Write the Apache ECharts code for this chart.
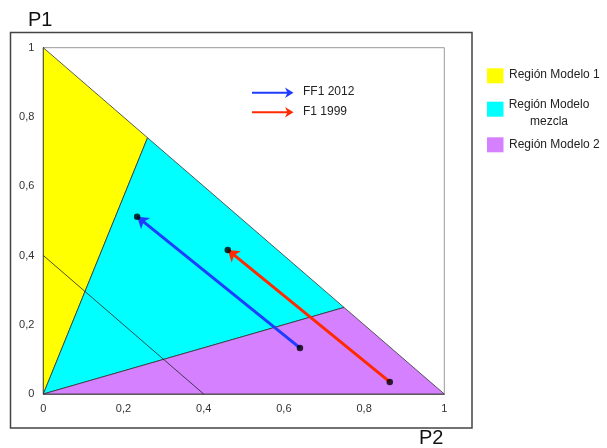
<!DOCTYPE html>
<html>
<head>
<meta charset="utf-8">
<script src="https://cdn.jsdelivr.net/npm/echarts@6/dist/echarts.min.js"></script>
<style>html,body{margin:0;padding:0;background:#fff;}#c{width:607px;height:448px;}</style>
</head>
<body>
<div id="c"></div>
<script>
// Regions (vertices in data coordinates P2, P1)
const regionModelo1 = [[0,0],[0.26,0.74],[0,1]];
const regionMezcla  = [[0,0],[0.75,0.25],[0.26,0.74]];
const regionModelo2 = [[0,0],[1,0],[0.75,0.25]];
const guideLine = [[0,0.4],[0.4,0]];
// Arrows: from -> to
const ff1_2012 = [[0.64,0.133],[0.234,0.512]];
const f1_1999  = [[0.864,0.035],[0.46,0.416]];
const xTicks = [0,0.2,0.4,0.6,0.8,1];
const yTicks = [0,0.2,0.4,0.6,0.8,1];
const regionNames = ['Región Modelo 1','Región Modelo\nmezcla','Región Modelo 2'];
const arrowNames = ['FF1 2012','F1 1999'];

const colYellow = '#ffff00', colCyan = '#00ffff', colPurple = '#d580ff';
const colBlue = '#1f3cff', colRed = '#ff2a00';
const FONT = '"Liberation Sans", Arial, sans-serif';

function polySeries(verts, color){
  return {
    type:'custom', coordinateSystem:'cartesian2d', z:2, silent:true,
    data: verts,
    renderItem: function(params, api){
      if (params.dataIndex !== 0) return null;
      return {
        type:'polygon',
        shape:{points: verts.map(function(v){return api.coord(v);})},
        style:{fill:color, stroke:'#333', lineWidth:0.8}
      };
    }
  };
}
const fmt = function(v){ return String(+v.toFixed(1)).replace('.',','); };

const chart = echarts.init(document.getElementById('c'), null, {renderer:'canvas'});
chart.setOption({
  animation:false,
  backgroundColor:'#fff',
  grid:{left:43.3, right:607-444.3, top:47.7, bottom:448-394, show:true, borderColor:'#999', borderWidth:1},
  xAxis:{type:'value', min:0, max:1, interval:0.2,
    axisLine:{show:true, lineStyle:{color:'#777', width:1}},
    axisTick:{show:false}, splitLine:{show:false},
    axisLabel:{formatter:fmt, color:'#333', fontSize:11, fontFamily:FONT, margin:9}},
  yAxis:{type:'value', min:0, max:1, interval:0.2,
    axisLine:{show:true, lineStyle:{color:'#222', width:1}},
    axisTick:{show:false}, splitLine:{show:false},
    axisLabel:{formatter:fmt, color:'#333', fontSize:11, fontFamily:FONT, margin:9}},
  series:[
    polySeries(regionModelo1, colYellow),
    polySeries(regionMezcla, colCyan),
    polySeries(regionModelo2, colPurple),
    {type:'line', data:guideLine, symbol:'none', z:3, silent:true,
     lineStyle:{color:'#222', width:0.8}},
    {type:'lines', coordinateSystem:'cartesian2d', z:4, silent:true,
     symbol:['none','arrow'], symbolSize:11,
     data:[{coords:ff1_2012, lineStyle:{color:colBlue}}, {coords:f1_1999, lineStyle:{color:colRed}}],
     lineStyle:{width:3, opacity:1}},
    {type:'scatter', z:5, silent:true, symbolSize:6.5, itemStyle:{color:'#000'},
     data:[ff1_2012[0], ff1_2012[1], f1_1999[0], f1_1999[1]]}
  ],
  graphic:[
    {type:'rect', z:-10, shape:{x:10.5, y:32.5, width:461.5, height:395.5}, style:{fill:'none', stroke:'#444', lineWidth:1.5}},
    {type:'text', left:28, top:10, style:{text:'P1', font:'20px '+FONT, fill:'#111'}},
    {type:'text', left:419, top:428, style:{text:'P2', font:'20px '+FONT, fill:'#111'}},
    // top arrow legend
    {type:'line', shape:{x1:252, y1:92.7, x2:290, y2:92.7}, style:{stroke:colBlue, lineWidth:2}},
    {type:'polygon', shape:{points:[[285,87.5],[293.5,92.7],[285,97.9],[287.5,92.7]]}, style:{fill:colBlue}},
    {type:'text', left:303, top:86, style:{text:arrowNames[0], font:'12px '+FONT, fill:'#222'}},
    {type:'line', shape:{x1:252, y1:112.3, x2:290, y2:112.3}, style:{stroke:colRed, lineWidth:2}},
    {type:'polygon', shape:{points:[[285,107.1],[293.5,112.3],[285,117.5],[287.5,112.3]]}, style:{fill:colRed}},
    {type:'text', left:303, top:106, style:{text:arrowNames[1], font:'12px '+FONT, fill:'#222'}},
    // right legend
    {type:'rect', shape:{x:487, y:68.3, width:16.5, height:15}, style:{fill:colYellow}},
    {type:'text', left:509, top:69, style:{text:regionNames[0], font:'12px '+FONT, fill:'#222'}},
    {type:'rect', shape:{x:487, y:101.7, width:16.5, height:15}, style:{fill:colCyan}},
    {type:'text', x:549, y:96, style:{text:regionNames[1], font:'12px '+FONT, fill:'#222', align:'center', lineHeight:17}},
    {type:'rect', shape:{x:487, y:137.3, width:16.5, height:15}, style:{fill:colPurple}},
    {type:'text', left:509, top:139, style:{text:regionNames[2], font:'12px '+FONT, fill:'#222'}}
  ]
});
</script>
</body>
</html>
